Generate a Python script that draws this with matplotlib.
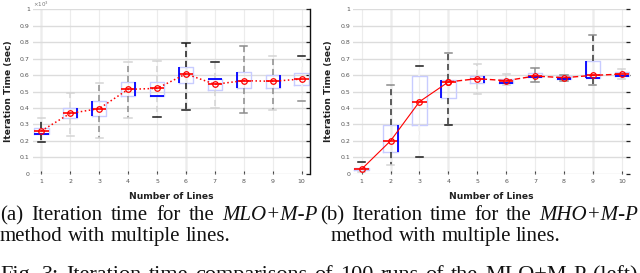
import numpy as np
import matplotlib
matplotlib.use("Agg")
import matplotlib.pyplot as plt

# ---------------- data ----------------
lines = [1, 2, 3, 4, 5, 6, 7, 8, 9, 10]
ytick_vals = [0, 0.1, 0.2, 0.3, 0.4, 0.5, 0.6, 0.7, 0.8, 0.9, 1.0]
ytick_labels = ["0", "0.1", "0.2", "0.3", "0.4", "0.5", "0.6", "0.7", "0.8", "0.9", "1"]

# (a) MLO+M-P
mean_a = [0.260, 0.367, 0.396, 0.513, 0.519, 0.607, 0.544, 0.566, 0.562, 0.576]
med_a = [0.262, 0.367, 0.396, 0.515, 0.519, 0.607, 0.544, 0.566, 0.562, 0.576]
q1_a = [0.240, 0.337, 0.350, 0.470, 0.470, 0.550, 0.510, 0.520, 0.520, 0.540]
q3_a = [0.280, 0.400, 0.440, 0.555, 0.560, 0.647, 0.576, 0.620, 0.600, 0.610]
lo_a = [0.190, 0.230, 0.220, 0.340, 0.347, 0.390, 0.400, 0.367, 0.390, 0.444]
hi_a = [0.337, 0.490, 0.550, 0.680, 0.685, 0.797, 0.680, 0.777, 0.718, 0.716]

# (b) MHO+M-P
mean_b = [0.028, 0.200, 0.438, 0.558, 0.578, 0.566, 0.594, 0.584, 0.598, 0.606]
med_b = [0.028, 0.200, 0.438, 0.558, 0.578, 0.566, 0.594, 0.584, 0.598, 0.606]
q1_b = [0.020, 0.130, 0.296, 0.460, 0.550, 0.554, 0.586, 0.578, 0.580, 0.594]
q3_b = [0.036, 0.296, 0.594, 0.570, 0.595, 0.576, 0.610, 0.592, 0.686, 0.619]
lo_b = [0.010, 0.050, 0.103, 0.296, 0.483, 0.538, 0.556, 0.564, 0.540, 0.574]
hi_b = [0.070, 0.540, 0.655, 0.736, 0.665, 0.607, 0.640, 0.598, 0.844, 0.637]

# ---------------- styles ----------------
BLK, GRY, LGT, NONE = "#1a1a1a", "#8c8c8c", "#d4d4d4", "#f4f4f4"
whisk_a = [BLK, LGT, GRY, GRY, LGT, BLK, LGT, GRY, GRY, NONE]
caplo_a = [BLK, LGT, LGT, LGT, BLK, BLK, LGT, GRY, LGT, GRY]
caphi_a = [LGT, LGT, LGT, LGT, LGT, BLK, BLK, GRY, LGT, BLK]
accent_a = ["bottom", "right", "left", "right", "bottom", "left", "top", "left", "right", ""]
dark_grid_a = [1, 6]

whisk_b = [NONE, "#333333", NONE, "#333333", LGT, LGT, GRY, GRY, "#333333", LGT]
caplo_b = [LGT, LGT, BLK, BLK, LGT, LGT, GRY, GRY, GRY, LGT]
caphi_b = [BLK, GRY, BLK, GRY, LGT, LGT, GRY, GRY, GRY, LGT]
accent_b = ["", "right", "", "left", "right", "bottom", "bottom", "bottom", "left+bottom", "bottom"]
dark_grid_b = [2, 4, 9]

W, H = 640, 273
fig = plt.figure(figsize=(6.4, 2.73), dpi=100)


def px_axes(x0, x1, ytop, ybot):
    return fig.add_axes([x0 / W, (H - ybot) / H, (x1 - x0) / W, (ybot - ytop) / H])


def draw_panel(ax, mean, med, q1, q3, lo, hi, whisk, caplo, caphi, accent,
               dark_grid, split_line):
    x = np.array(lines, dtype=float)
    ax.set_xlim(0.7, 10.3)
    ax.set_ylim(0, 1)
    ax.set_yticks(ytick_vals)
    ax.set_yticklabels(ytick_labels)
    ax.set_xticks(lines)
    ax.set_xticklabels([str(v) for v in lines])
    ax.grid(axis="y", color="#dcdcdc", lw=1.0, zorder=0)
    ax.grid(axis="x", color="#ececec", lw=0.8, zorder=0)
    ax.set_axisbelow(True)
    for g in dark_grid:
        ax.axvline(g, color="#c4c4c4", lw=1.0, zorder=0.5)

    stats = [dict(med=med[i], q1=q1[i], q3=q3[i], whislo=lo[i], whishi=hi[i],
                  fliers=[]) for i in range(len(lines))]
    bp = ax.bxp(stats, positions=x, widths=0.5, showfliers=False,
                manage_ticks=False,
                boxprops=dict(color="#c8ccff", lw=1.0),
                whiskerprops=dict(ls=(0, (4, 2.5)), lw=1.1),
                capprops=dict(lw=1.1),
                medianprops=dict(color="red", lw=1.2))
    for i, w in enumerate(bp["whiskers"]):
        w.set_color(whisk[i // 2])
    for i, c in enumerate(bp["caps"]):
        c.set_color(caplo[i // 2] if i % 2 == 0 else caphi[i // 2])

    half = 0.25
    for i, acc in enumerate(accent):
        for side in acc.split("+"):
            if side == "left":
                ax.vlines(x[i] - half, q1[i], q3[i], color="blue", lw=1.3, zorder=3)
            elif side == "right":
                ax.vlines(x[i] + half, q1[i], q3[i], color="blue", lw=1.3, zorder=3)
            elif side == "bottom":
                ax.hlines(q1[i], x[i] - half, x[i] + half, color="blue", lw=1.3, zorder=3)
            elif side == "top":
                ax.hlines(q3[i], x[i] - half, x[i] + half, color="blue", lw=1.3, zorder=3)

    mk = dict(color="red", marker="o", mfc="none", ms=4, mew=0.9, zorder=4)
    if split_line:
        ax.plot(x[:4], mean[:4], ls="-", lw=0.8, **mk)
        ax.plot(x[3:], mean[3:], ls=(0, (4, 2)), lw=1.0, **mk)
    else:
        ax.plot(x, mean, ls=":", lw=1.1, **mk)

    for s in ax.spines.values():
        s.set_visible(False)
    ax.tick_params(axis="y", left=False, right=True, labelleft=True,
                   direction="in", length=3, width=0.9, color="#222222",
                   labelsize=4.5, labelcolor="#555555", pad=2)
    ax.tick_params(axis="x", bottom=True, direction="in", length=2, width=0.8,
                   color="#444444", labelsize=4.5, labelcolor="#555555", pad=4)
    ax.set_ylabel("Iteration Time (sec)", fontsize=6.6, fontweight="bold",
                  color="#202020")
    ax.yaxis.set_label_coords(-0.072, 0.5)
    ax.set_xlabel("Number of Lines", fontsize=6.6, fontweight="bold",
                  color="#202020")
    ax.xaxis.set_label_coords(0.5, -0.11)


ax1 = px_axes(32.6, 310.4, 9.3, 173.7)
draw_panel(ax1, mean_a, med_a, q1_a, q3_a, lo_a, hi_a, whisk_a, caplo_a, caphi_a,
           accent_a, dark_grid_a, split_line=False)
ax1.spines["right"].set_visible(True)
ax1.spines["right"].set_color("#111111")
ax1.spines["right"].set_linewidth(1.0)
ax1.text(0.0, 1.0, "×10$^{3}$", transform=ax1.transAxes, fontsize=4.0,
         color="#777777", ha="left", va="bottom")

ax2 = px_axes(353.0, 630.4, 9.3, 173.7)
draw_panel(ax2, mean_b, med_b, q1_b, q3_b, lo_b, hi_b, whisk_b, caplo_b, caphi_b,
           accent_b, dark_grid_b, split_line=True)

# ---------------- captions ----------------
renderer = fig.canvas.get_renderer()
SERIF = "Liberation Serif"
CAP_FS = 15.0
FIG_FS = 16.0


def put_words(parts, x0, x1, ybase, justify=True, fs=CAP_FS):
    objs = []
    for word, style in parts:
        t = fig.text(0, (H - ybase) / H, word, fontsize=fs, family=SERIF,
                     style=style, ha="left", va="baseline", color="#111111")
        objs.append(t)
    widths = [o.get_window_extent(renderer).width for o in objs]
    if justify and len(objs) > 1:
        gap = (x1 - x0 - sum(widths)) / (len(objs) - 1)
    else:
        gap = fs * 100 / 72 * 0.25
    xc = x0
    for o, w in zip(objs, widths):
        o.set_x(xc / W)
        xc += w + gap


put_words([("(a)", "normal"), ("Iteration", "normal"), ("time", "normal"),
           ("for", "normal"), ("the", "normal"), ("MLO+M-P", "italic")],
          0, 318, 220)
put_words([("method", "normal"), ("with", "normal"), ("multiple", "normal"),
           ("lines.", "normal")], 0, 0, 241, justify=False)
put_words([("(b)", "normal"), ("Iteration", "normal"), ("time", "normal"),
           ("for", "normal"), ("the", "normal"), ("MHO+M-P", "italic")],
          320, 638, 220)
put_words([("method", "normal"), ("with", "normal"), ("multiple", "normal"),
           ("lines.", "normal")], 331, 0, 241, justify=False)
put_words([("Fig.", "normal"), ("3:", "normal"), ("Iteration", "normal"),
           ("time", "normal"), ("comparisons", "normal"), ("of", "normal"),
           ("100", "normal"), ("runs", "normal"), ("of", "normal"),
           ("the", "normal"), ("MLO+M-P", "normal"), ("(left)", "normal")],
          0, 638, 280, fs=FIG_FS)

fig.savefig("out.png", dpi=100)
